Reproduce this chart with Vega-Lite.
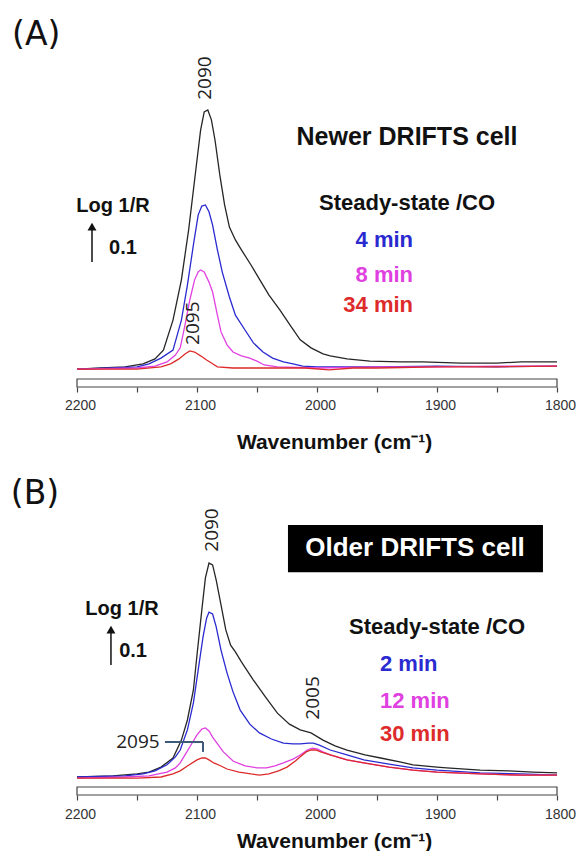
{
  "$schema": "https://vega.github.io/schema/vega-lite/v6.json",
  "padding": 0,
  "bounds": "flush",
  "spacing": 73,
  "config": {"view": {"stroke": null}, "font": "Liberation Sans"},
  "resolve": {"scale": {"x": "independent", "y": "independent", "color": "independent"}},
  "vconcat": [
    {
      "width": 557,
      "height": 387,
      "encoding": {
        "x": {"field": "wn", "type": "quantitative",
          "scale": {"domain": [1800, 2264.17], "reverse": true, "nice": false, "zero": false},
          "axis": {"values": [2200, 2150, 2100, 2050, 2000, 1950, 1900, 1850, 1800],
            "labelExpr": "datum.value % 100 === 0 ? datum.label : ''", "format": "d",
            "domain": false, "grid": false, "tickSize": 5, "tickColor": "#444", "tickWidth": 1.2,
            "labelFont": "Liberation Sans", "labelFontSize": 14, "labelColor": "#333", "labelPadding": 6, "labelOffset": 3,
            "labelFlush": false, "labelOverlap": false,
            "title": "Wavenumber (cm⁻¹)", "titleFont": "Liberation Sans", "titleFontSize": 21, "titleFontWeight": "bold",
            "titleColor": "#111", "titlePadding": 19, "titleX": 334}},
        "y": {"field": "a", "type": "quantitative",
          "scale": {"domain": [-0.05, 0.9684], "nice": false, "zero": false}, "axis": null}
      },
      "layer": [
        {
          "data": {"values": [{"wn": 2200, "wn2": 1800, "a": -0.05, "a2": -0.029}]},
          "mark": {"type": "rect", "fill": "white", "stroke": "#444", "strokeWidth": 1.2},
          "encoding": {"x2": {"field": "wn2"}, "y2": {"field": "a2"}}
        },
        {
          "data": {"values": [
            {"wn":2200,"a":-0.003,"s":"steady"},{"wn":2180,"a":0,"s":"steady"},{"wn":2160,"a":0.003,"s":"steady"},{"wn":2145,"a":0.011,"s":"steady"},{"wn":2135,"a":0.024,"s":"steady"},{"wn":2128,"a":0.047,"s":"steady"},{"wn":2120,"a":0.126,"s":"steady"},{"wn":2113,"a":0.232,"s":"steady"},{"wn":2107,"a":0.363,"s":"steady"},{"wn":2101,"a":0.521,"s":"steady"},{"wn":2097,"a":0.626,"s":"steady"},{"wn":2094,"a":0.674,"s":"steady"},{"wn":2091,"a":0.679,"s":"steady"},{"wn":2088,"a":0.653,"s":"steady"},{"wn":2085,"a":0.6,"s":"steady"},{"wn":2081,"a":0.508,"s":"steady"},{"wn":2077,"a":0.429,"s":"steady"},{"wn":2073,"a":0.371,"s":"steady"},{"wn":2068,"a":0.337,"s":"steady"},{"wn":2063,"a":0.311,"s":"steady"},{"wn":2055,"a":0.271,"s":"steady"},{"wn":2048,"a":0.234,"s":"steady"},{"wn":2040,"a":0.192,"s":"steady"},{"wn":2031,"a":0.153,"s":"steady"},{"wn":2022,"a":0.111,"s":"steady"},{"wn":2014,"a":0.074,"s":"steady"},{"wn":2005,"a":0.053,"s":"steady"},{"wn":1995,"a":0.037,"s":"steady"},{"wn":1989,"a":0.032,"s":"steady"},{"wn":1975,"a":0.024,"s":"steady"},{"wn":1956,"a":0.018,"s":"steady"},{"wn":1930,"a":0.016,"s":"steady"},{"wn":1912,"a":0.016,"s":"steady"},{"wn":1880,"a":0.013,"s":"steady"},{"wn":1850,"a":0.013,"s":"steady"},{"wn":1830,"a":0.016,"s":"steady"},{"wn":1800,"a":0.016,"s":"steady"},
            {"wn":2200,"a":-0.003,"s":"4 min"},{"wn":2170,"a":0,"s":"4 min"},{"wn":2150,"a":0.003,"s":"4 min"},{"wn":2140,"a":0.011,"s":"4 min"},{"wn":2130,"a":0.026,"s":"4 min"},{"wn":2120,"a":0.047,"s":"4 min"},{"wn":2113,"a":0.126,"s":"4 min"},{"wn":2108,"a":0.218,"s":"4 min"},{"wn":2103,"a":0.324,"s":"4 min"},{"wn":2099,"a":0.403,"s":"4 min"},{"wn":2096,"a":0.426,"s":"4 min"},{"wn":2093,"a":0.429,"s":"4 min"},{"wn":2090,"a":0.411,"s":"4 min"},{"wn":2087,"a":0.376,"s":"4 min"},{"wn":2083,"a":0.311,"s":"4 min"},{"wn":2079,"a":0.253,"s":"4 min"},{"wn":2073,"a":0.187,"s":"4 min"},{"wn":2068,"a":0.139,"s":"4 min"},{"wn":2060,"a":0.1,"s":"4 min"},{"wn":2053,"a":0.066,"s":"4 min"},{"wn":2045,"a":0.042,"s":"4 min"},{"wn":2037,"a":0.026,"s":"4 min"},{"wn":2028,"a":0.016,"s":"4 min"},{"wn":2020,"a":0.011,"s":"4 min"},{"wn":2012,"a":0.005,"s":"4 min"},{"wn":2000,"a":0.003,"s":"4 min"},{"wn":1950,"a":0.003,"s":"4 min"},{"wn":1900,"a":0.005,"s":"4 min"},{"wn":1850,"a":0.003,"s":"4 min"},{"wn":1800,"a":0.005,"s":"4 min"},
            {"wn":2200,"a":-0.003,"s":"8 min"},{"wn":2150,"a":0,"s":"8 min"},{"wn":2135,"a":0.005,"s":"8 min"},{"wn":2125,"a":0.016,"s":"8 min"},{"wn":2118,"a":0.034,"s":"8 min"},{"wn":2114,"a":0.053,"s":"8 min"},{"wn":2110,"a":0.113,"s":"8 min"},{"wn":2106,"a":0.179,"s":"8 min"},{"wn":2102,"a":0.232,"s":"8 min"},{"wn":2099,"a":0.253,"s":"8 min"},{"wn":2097,"a":0.258,"s":"8 min"},{"wn":2094,"a":0.253,"s":"8 min"},{"wn":2090,"a":0.226,"s":"8 min"},{"wn":2087,"a":0.2,"s":"8 min"},{"wn":2083,"a":0.139,"s":"8 min"},{"wn":2080,"a":0.095,"s":"8 min"},{"wn":2075,"a":0.061,"s":"8 min"},{"wn":2070,"a":0.042,"s":"8 min"},{"wn":2063,"a":0.032,"s":"8 min"},{"wn":2056,"a":0.026,"s":"8 min"},{"wn":2050,"a":0.018,"s":"8 min"},{"wn":2044,"a":0.008,"s":"8 min"},{"wn":2033,"a":0.003,"s":"8 min"},{"wn":2000,"a":0,"s":"8 min"},{"wn":1950,"a":0.003,"s":"8 min"},{"wn":1900,"a":0.003,"s":"8 min"},{"wn":1850,"a":0.005,"s":"8 min"},{"wn":1800,"a":0.005,"s":"8 min"},
            {"wn":2200,"a":-0.003,"s":"34 min"},{"wn":2150,"a":-0.003,"s":"34 min"},{"wn":2130,"a":0.003,"s":"34 min"},{"wn":2122,"a":0.011,"s":"34 min"},{"wn":2115,"a":0.024,"s":"34 min"},{"wn":2110,"a":0.037,"s":"34 min"},{"wn":2106,"a":0.045,"s":"34 min"},{"wn":2102,"a":0.042,"s":"34 min"},{"wn":2097,"a":0.032,"s":"34 min"},{"wn":2092,"a":0.021,"s":"34 min"},{"wn":2087,"a":0.011,"s":"34 min"},{"wn":2083,"a":0.003,"s":"34 min"},{"wn":2070,"a":0,"s":"34 min"},{"wn":2040,"a":0,"s":"34 min"},{"wn":2010,"a":0,"s":"34 min"},{"wn":1990,"a":-0.005,"s":"34 min"},{"wn":1970,"a":0,"s":"34 min"},{"wn":1950,"a":0,"s":"34 min"},{"wn":1900,"a":0.003,"s":"34 min"},{"wn":1850,"a":0.003,"s":"34 min"},{"wn":1800,"a":0.005,"s":"34 min"}
          ]},
          "mark": {"type": "line", "strokeWidth": 1.3},
          "encoding": {
            "color": {"field": "s", "type": "nominal", "legend": null,
              "scale": {"domain": ["steady", "4 min", "8 min", "34 min"], "range": ["#262626", "#2a2ad0", "#e040e0", "#dd2a2a"]}}
          }
        },
        {
          "data": {"values": [
            {"wn": 2234, "a": 0.876, "text": "(A)"}
          ]},
          "mark": {"type": "text", "font": "DejaVu Sans", "fontSize": 33, "color": "#111", "baseline": "middle", "align": "center"},
          "encoding": {"text": {"field": "text"}}
        },
        {
          "data": {"values": [
            {"wn": 2093.3, "a": 0.763, "text": "2090"},
            {"wn": 2103.3, "a": 0.118, "text": "2095"}
          ]},
          "mark": {"type": "text", "font": "Open Sans", "fontSize": 19, "angle": 270, "color": "#222", "baseline": "middle", "align": "center"},
          "encoding": {"text": {"field": "text"}}
        },
        {
          "data": {"values": [
            {"wn": 2170, "a": 0.426, "text": "Log 1/R"},
            {"wn": 2161.7, "a": 0.316, "text": "0.1"}
          ]},
          "mark": {"type": "text", "fontSize": 20, "fontWeight": "bold", "color": "#111", "baseline": "middle", "align": "center"},
          "encoding": {"text": {"field": "text"}}
        },
        {
          "data": {"values": [{"wn": 2187.5, "a": 0.279, "a2": 0.37}]},
          "mark": {"type": "rule", "color": "#111", "strokeWidth": 1.5},
          "encoding": {"y2": {"field": "a2"}}
        },
        {
          "data": {"values": [{"wn": 2187.5, "a": 0.372}]},
          "mark": {"type": "point", "shape": "triangle-up", "size": 80, "filled": true, "color": "#111", "opacity": 1},
          "encoding": {}
        },
        {
          "data": {"values": [
            {"wn": 1925, "a": 0.608, "text": "Newer DRIFTS cell"}
          ]},
          "mark": {"type": "text", "fontSize": 25, "fontWeight": "bold", "color": "#111", "baseline": "middle", "align": "center"},
          "encoding": {"text": {"field": "text"}}
        },
        {
          "data": {"values": [
            {"wn": 1925, "a": 0.434, "text": "Steady-state /CO"}
          ]},
          "mark": {"type": "text", "fontSize": 22, "fontWeight": "bold", "color": "#111", "baseline": "middle", "align": "center"},
          "encoding": {"text": {"field": "text"}}
        },
        {
          "data": {"values": [
            {"wn": 1920, "a": 0.337, "s": "4 min"},
            {"wn": 1920, "a": 0.245, "s": "8 min"},
            {"wn": 1920, "a": 0.166, "s": "34 min"}
          ]},
          "mark": {"type": "text", "fontSize": 22, "fontWeight": "bold", "baseline": "middle", "align": "right"},
          "encoding": {
            "text": {"field": "s"},
            "color": {"field": "s", "type": "nominal", "legend": null}
          }
        }
      ]
    },
    {
      "width": 557,
      "height": 335,
      "encoding": {
        "x": {"field": "wn", "type": "quantitative",
          "scale": {"domain": [1800, 2264.17], "reverse": true, "nice": false, "zero": false},
          "axis": {"values": [2200, 2150, 2100, 2050, 2000, 1950, 1900, 1850, 1800],
            "labelExpr": "datum.value % 100 === 0 ? datum.label : ''", "format": "d",
            "domain": false, "grid": false, "tickSize": 5, "tickColor": "#444", "tickWidth": 1.2,
            "labelFont": "Liberation Sans", "labelFontSize": 14, "labelColor": "#333", "labelPadding": 7, "labelOffset": 3,
            "labelFlush": false, "labelOverlap": false,
            "title": "Wavenumber (cm⁻¹)", "titleFont": "Liberation Sans", "titleFontSize": 21, "titleFontWeight": "bold",
            "titleColor": "#111", "titlePadding": 9, "titleX": 334}},
        "y": {"field": "a", "type": "quantitative",
          "scale": {"domain": [-0.0474, 0.8342], "nice": false, "zero": false}, "axis": null}
      },
      "layer": [
        {
          "data": {"values": [{"wn": 2200, "wn2": 1800, "a": -0.0474, "a2": -0.0263}]},
          "mark": {"type": "rect", "fill": "white", "stroke": "#444", "strokeWidth": 1.2},
          "encoding": {"x2": {"field": "wn2"}, "y2": {"field": "a2"}}
        },
        {
          "data": {"values": [{"wn": 2024.2, "wn2": 1811.7, "a": 0.539, "a2": 0.663}]},
          "mark": {"type": "rect", "fill": "#000", "stroke": null},
          "encoding": {"x2": {"field": "wn2"}, "y2": {"field": "a2"}}
        },
        {
          "data": {"values": [
            {"wn":2200,"a":0,"s":"steady"},{"wn":2170,"a":0.003,"s":"steady"},{"wn":2150,"a":0.008,"s":"steady"},{"wn":2140,"a":0.013,"s":"steady"},{"wn":2130,"a":0.026,"s":"steady"},{"wn":2120,"a":0.05,"s":"steady"},{"wn":2113,"a":0.097,"s":"steady"},{"wn":2108,"a":0.15,"s":"steady"},{"wn":2103,"a":0.229,"s":"steady"},{"wn":2100,"a":0.321,"s":"steady"},{"wn":2096,"a":0.439,"s":"steady"},{"wn":2093,"a":0.524,"s":"steady"},{"wn":2090,"a":0.563,"s":"steady"},{"wn":2087,"a":0.558,"s":"steady"},{"wn":2084,"a":0.518,"s":"steady"},{"wn":2080,"a":0.453,"s":"steady"},{"wn":2076,"a":0.387,"s":"steady"},{"wn":2072,"a":0.347,"s":"steady"},{"wn":2068,"a":0.329,"s":"steady"},{"wn":2063,"a":0.303,"s":"steady"},{"wn":2053,"a":0.255,"s":"steady"},{"wn":2043,"a":0.211,"s":"steady"},{"wn":2033,"a":0.168,"s":"steady"},{"wn":2023,"a":0.139,"s":"steady"},{"wn":2014,"a":0.124,"s":"steady"},{"wn":2005,"a":0.116,"s":"steady"},{"wn":1995,"a":0.097,"s":"steady"},{"wn":1985,"a":0.082,"s":"steady"},{"wn":1975,"a":0.071,"s":"steady"},{"wn":1960,"a":0.058,"s":"steady"},{"wn":1947,"a":0.05,"s":"steady"},{"wn":1930,"a":0.039,"s":"steady"},{"wn":1920,"a":0.032,"s":"steady"},{"wn":1900,"a":0.026,"s":"steady"},{"wn":1892,"a":0.024,"s":"steady"},{"wn":1864,"a":0.018,"s":"steady"},{"wn":1840,"a":0.016,"s":"steady"},{"wn":1820,"a":0.013,"s":"steady"},{"wn":1800,"a":0.011,"s":"steady"},
            {"wn":2200,"a":0,"s":"2 min"},{"wn":2160,"a":0.003,"s":"2 min"},{"wn":2145,"a":0.008,"s":"2 min"},{"wn":2135,"a":0.016,"s":"2 min"},{"wn":2125,"a":0.032,"s":"2 min"},{"wn":2118,"a":0.053,"s":"2 min"},{"wn":2114,"a":0.071,"s":"2 min"},{"wn":2108,"a":0.124,"s":"2 min"},{"wn":2103,"a":0.195,"s":"2 min"},{"wn":2099,"a":0.282,"s":"2 min"},{"wn":2095,"a":0.368,"s":"2 min"},{"wn":2092,"a":0.418,"s":"2 min"},{"wn":2090,"a":0.434,"s":"2 min"},{"wn":2087,"a":0.429,"s":"2 min"},{"wn":2084,"a":0.395,"s":"2 min"},{"wn":2080,"a":0.334,"s":"2 min"},{"wn":2075,"a":0.274,"s":"2 min"},{"wn":2070,"a":0.224,"s":"2 min"},{"wn":2064,"a":0.176,"s":"2 min"},{"wn":2056,"a":0.139,"s":"2 min"},{"wn":2048,"a":0.116,"s":"2 min"},{"wn":2038,"a":0.1,"s":"2 min"},{"wn":2028,"a":0.089,"s":"2 min"},{"wn":2020,"a":0.087,"s":"2 min"},{"wn":2014,"a":0.087,"s":"2 min"},{"wn":2007,"a":0.089,"s":"2 min"},{"wn":2003,"a":0.089,"s":"2 min"},{"wn":1998,"a":0.084,"s":"2 min"},{"wn":1989,"a":0.071,"s":"2 min"},{"wn":1975,"a":0.058,"s":"2 min"},{"wn":1961,"a":0.045,"s":"2 min"},{"wn":1940,"a":0.034,"s":"2 min"},{"wn":1920,"a":0.024,"s":"2 min"},{"wn":1900,"a":0.018,"s":"2 min"},{"wn":1864,"a":0.011,"s":"2 min"},{"wn":1830,"a":0.008,"s":"2 min"},{"wn":1800,"a":0.005,"s":"2 min"},
            {"wn":2200,"a":-0.003,"s":"12 min"},{"wn":2160,"a":0,"s":"12 min"},{"wn":2140,"a":0.003,"s":"12 min"},{"wn":2125,"a":0.013,"s":"12 min"},{"wn":2118,"a":0.024,"s":"12 min"},{"wn":2114,"a":0.037,"s":"12 min"},{"wn":2110,"a":0.058,"s":"12 min"},{"wn":2106,"a":0.079,"s":"12 min"},{"wn":2100,"a":0.111,"s":"12 min"},{"wn":2096,"a":0.126,"s":"12 min"},{"wn":2093,"a":0.129,"s":"12 min"},{"wn":2090,"a":0.121,"s":"12 min"},{"wn":2087,"a":0.105,"s":"12 min"},{"wn":2084,"a":0.092,"s":"12 min"},{"wn":2078,"a":0.066,"s":"12 min"},{"wn":2070,"a":0.042,"s":"12 min"},{"wn":2060,"a":0.029,"s":"12 min"},{"wn":2050,"a":0.024,"s":"12 min"},{"wn":2042,"a":0.024,"s":"12 min"},{"wn":2035,"a":0.029,"s":"12 min"},{"wn":2028,"a":0.037,"s":"12 min"},{"wn":2020,"a":0.047,"s":"12 min"},{"wn":2014,"a":0.058,"s":"12 min"},{"wn":2008,"a":0.071,"s":"12 min"},{"wn":2004,"a":0.076,"s":"12 min"},{"wn":2000,"a":0.074,"s":"12 min"},{"wn":1995,"a":0.066,"s":"12 min"},{"wn":1989,"a":0.058,"s":"12 min"},{"wn":1975,"a":0.045,"s":"12 min"},{"wn":1961,"a":0.037,"s":"12 min"},{"wn":1940,"a":0.026,"s":"12 min"},{"wn":1920,"a":0.018,"s":"12 min"},{"wn":1900,"a":0.013,"s":"12 min"},{"wn":1864,"a":0.008,"s":"12 min"},{"wn":1830,"a":0.005,"s":"12 min"},{"wn":1800,"a":0.005,"s":"12 min"},
            {"wn":2200,"a":-0.003,"s":"30 min"},{"wn":2150,"a":-0.003,"s":"30 min"},{"wn":2130,"a":0,"s":"30 min"},{"wn":2120,"a":0.008,"s":"30 min"},{"wn":2114,"a":0.016,"s":"30 min"},{"wn":2108,"a":0.029,"s":"30 min"},{"wn":2100,"a":0.045,"s":"30 min"},{"wn":2096,"a":0.05,"s":"30 min"},{"wn":2093,"a":0.05,"s":"30 min"},{"wn":2090,"a":0.045,"s":"30 min"},{"wn":2086,"a":0.037,"s":"30 min"},{"wn":2080,"a":0.029,"s":"30 min"},{"wn":2075,"a":0.021,"s":"30 min"},{"wn":2065,"a":0.013,"s":"30 min"},{"wn":2055,"a":0.008,"s":"30 min"},{"wn":2048,"a":0.005,"s":"30 min"},{"wn":2040,"a":0.008,"s":"30 min"},{"wn":2032,"a":0.016,"s":"30 min"},{"wn":2025,"a":0.026,"s":"30 min"},{"wn":2018,"a":0.042,"s":"30 min"},{"wn":2014,"a":0.053,"s":"30 min"},{"wn":2009,"a":0.066,"s":"30 min"},{"wn":2005,"a":0.071,"s":"30 min"},{"wn":2001,"a":0.071,"s":"30 min"},{"wn":1997,"a":0.066,"s":"30 min"},{"wn":1989,"a":0.058,"s":"30 min"},{"wn":1975,"a":0.045,"s":"30 min"},{"wn":1961,"a":0.037,"s":"30 min"},{"wn":1940,"a":0.026,"s":"30 min"},{"wn":1920,"a":0.018,"s":"30 min"},{"wn":1900,"a":0.013,"s":"30 min"},{"wn":1864,"a":0.008,"s":"30 min"},{"wn":1830,"a":0.005,"s":"30 min"},{"wn":1800,"a":0.005,"s":"30 min"}
          ]},
          "mark": {"type": "line", "strokeWidth": 1.3},
          "encoding": {
            "color": {"field": "s", "type": "nominal", "legend": null,
              "scale": {"domain": ["steady", "2 min", "12 min", "30 min"], "range": ["#262626", "#2a2ad0", "#e040e0", "#dd2a2a"]}}
          }
        },
        {
          "data": {"values": [
            {"wn": 2235, "a": 0.745, "text": "(B)"}
          ]},
          "mark": {"type": "text", "font": "DejaVu Sans", "fontSize": 33, "color": "#111", "baseline": "middle", "align": "center"},
          "encoding": {"text": {"field": "text"}}
        },
        {
          "data": {"values": [
            {"wn": 2087.5, "a": 0.65, "text": "2090"},
            {"wn": 2003.3, "a": 0.208, "text": "2005"}
          ]},
          "mark": {"type": "text", "font": "Open Sans", "fontSize": 19, "angle": 270, "color": "#222", "baseline": "middle", "align": "center"},
          "encoding": {"text": {"field": "text"}}
        },
        {
          "data": {"values": [
            {"wn": 2149.2, "a": 0.092, "text": "2095"}
          ]},
          "mark": {"type": "text", "font": "Open Sans", "fontSize": 19, "color": "#222", "baseline": "middle", "align": "center"},
          "encoding": {"text": {"field": "text"}}
        },
        {
          "data": {"values": [
            {"wn": 2126.7, "wn2": 2095, "a": 0.092, "a2": 0.092},
            {"wn": 2095, "wn2": 2095, "a": 0.092, "a2": 0.066}
          ]},
          "mark": {"type": "rule", "color": "#3d5a78", "strokeWidth": 2},
          "encoding": {"x2": {"field": "wn2"}, "y2": {"field": "a2"}}
        },
        {
          "data": {"values": [
            {"wn": 2162.5, "a": 0.442, "text": "Log 1/R"},
            {"wn": 2153.3, "a": 0.332, "text": "0.1"}
          ]},
          "mark": {"type": "text", "fontSize": 20, "fontWeight": "bold", "color": "#111", "baseline": "middle", "align": "center"},
          "encoding": {"text": {"field": "text"}}
        },
        {
          "data": {"values": [{"wn": 2171.7, "a": 0.295, "a2": 0.385}]},
          "mark": {"type": "rule", "color": "#111", "strokeWidth": 1.5},
          "encoding": {"y2": {"field": "a2"}}
        },
        {
          "data": {"values": [{"wn": 2171.7, "a": 0.388}]},
          "mark": {"type": "point", "shape": "triangle-up", "size": 80, "filled": true, "color": "#111", "opacity": 1},
          "encoding": {}
        },
        {
          "data": {"values": [
            {"wn": 1918.3, "a": 0.603, "text": "Older DRIFTS cell"}
          ]},
          "mark": {"type": "text", "fontSize": 26, "fontWeight": "bold", "color": "#ffffff", "baseline": "middle", "align": "center"},
          "encoding": {"text": {"field": "text"}}
        },
        {
          "data": {"values": [
            {"wn": 1900, "a": 0.395, "text": "Steady-state /CO"}
          ]},
          "mark": {"type": "text", "fontSize": 22, "fontWeight": "bold", "color": "#111", "baseline": "middle", "align": "center"},
          "encoding": {"text": {"field": "text"}}
        },
        {
          "data": {"values": [
            {"wn": 1947.5, "a": 0.297, "s": "2 min"},
            {"wn": 1947.5, "a": 0.2, "s": "12 min"},
            {"wn": 1947.5, "a": 0.113, "s": "30 min"}
          ]},
          "mark": {"type": "text", "fontSize": 22, "fontWeight": "bold", "baseline": "middle", "align": "left"},
          "encoding": {
            "text": {"field": "s"},
            "color": {"field": "s", "type": "nominal", "legend": null}
          }
        }
      ]
    }
  ]
}
